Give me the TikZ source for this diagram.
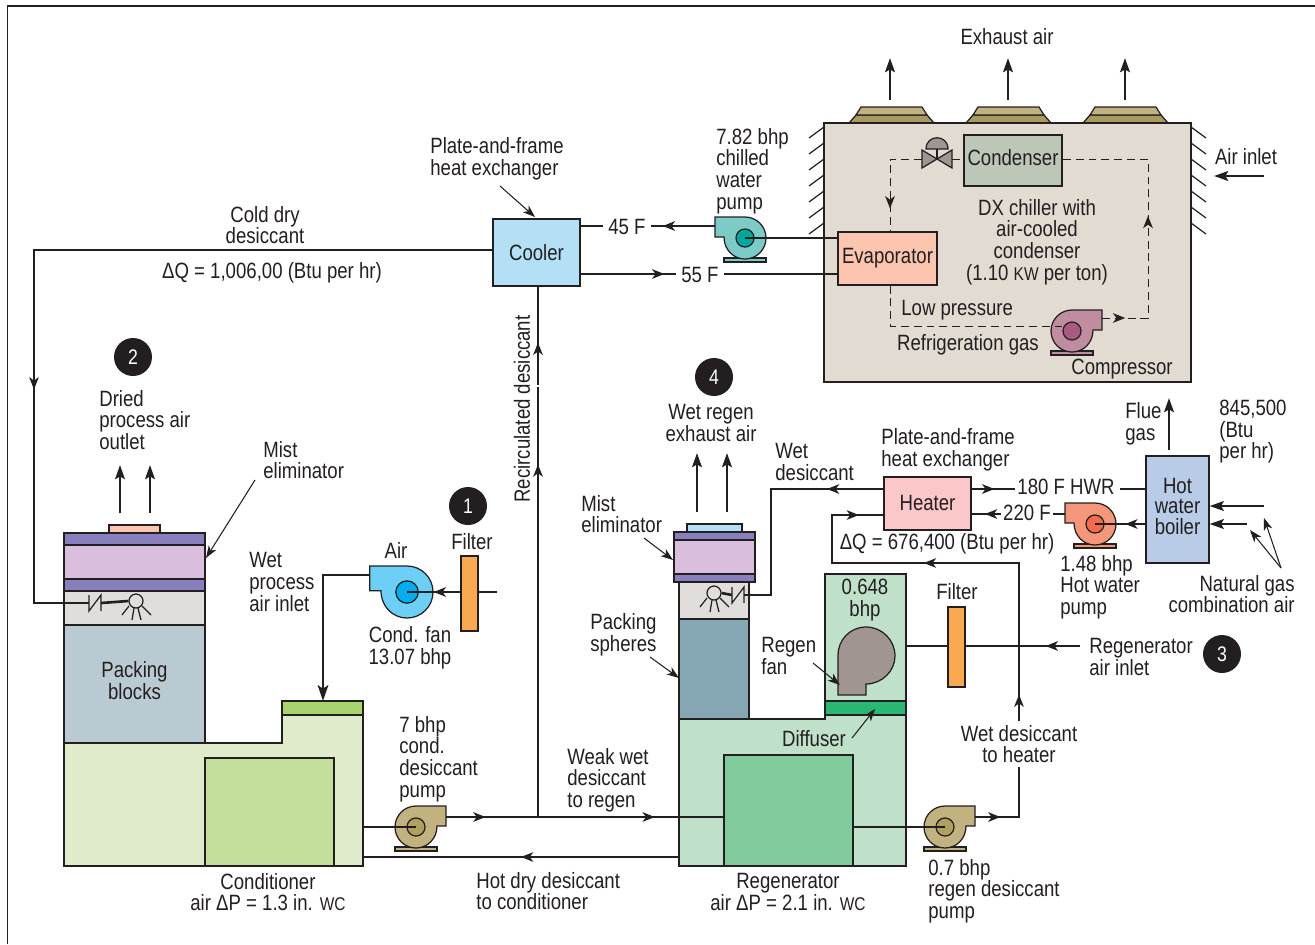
\documentclass[tikz,border=0pt]{standalone}
\usepackage{fontspec}
\setmainfont[FakeStretch=0.84]{Liberation Sans}
\usepackage{xcolor}
\usetikzlibrary{arrows.meta, decorations.markings}

\definecolor{inkline}{HTML}{231F20}
\definecolor{coolerfill}{HTML}{B3E0F5}
\definecolor{heaterfill}{HTML}{FBC7C9}
\definecolor{boilerfill}{HTML}{B8CCE8}
\definecolor{evapfill}{HTML}{FCC5B0}
\definecolor{condfill}{HTML}{BCC7B8}
\definecolor{chillerfill}{HTML}{E1DBD1}
\definecolor{hoodtop}{HTML}{C2B280}
\definecolor{hoodlow}{HTML}{A89A60}
\definecolor{filterfill}{HTML}{F9A94F}
\definecolor{purplefill}{HTML}{8880BC}
\definecolor{lilacfill}{HTML}{D9BFDD}
\definecolor{sprayfill}{HTML}{E1DDDA}
\definecolor{packblue}{HTML}{BACAD2}
\definecolor{packteal}{HTML}{85A8B4}
\definecolor{condbase}{HTML}{DFEBCB}
\definecolor{condcap}{HTML}{A8D46F}
\definecolor{condsumpfill}{HTML}{C4DF9B}
\definecolor{regenbase}{HTML}{BFE1C9}
\definecolor{regensumpfill}{HTML}{80CA9B}
\definecolor{diffuserfill}{HTML}{2BB673}
\definecolor{fangray}{HTML}{A09590}
\definecolor{compbody}{HTML}{C08CA0}
\definecolor{comphub}{HTML}{A95A80}
\definecolor{chwbody}{HTML}{7CCBC6}
\definecolor{chwhub}{HTML}{00A79D}
\definecolor{fanbody}{HTML}{6ECFF6}
\definecolor{fanhub}{HTML}{00AEEF}
\definecolor{pumpbody}{HTML}{C2B280}
\definecolor{pumphub}{HTML}{B0A060}
\definecolor{hwbody}{HTML}{F4967A}
\definecolor{hwhub}{HTML}{F26B4A}

\tikzset{
    pipe/.style={line width=1.5pt, draw=inkline},
    leader/.style={line width=0.6pt, draw=inkline, -{Stealth[length=7pt, width=5pt, inset=2pt]}},
    flowup/.style={line width=1.5pt, draw=inkline, -{Stealth[length=8pt, width=5.5pt, inset=1.5pt]}},
    unit/.style={draw=inkline, line width=0.7pt},
    refrig/.style={draw=inkline, line width=0.5pt, dash pattern=on 4.5pt off 2.8pt},
    lbl/.style={inner sep=0pt, align=left, text=inkline, font=\fontsize{12.6}{12.25}\selectfont},
    lblc/.style={lbl, align=center},
    lblr/.style={lbl, align=right},
    midarrow/.style={postaction={decorate, decoration={markings,
        mark=at position #1 with {\arrow[line width=0.8pt]{Stealth[length=7pt, width=5.5pt, inset=2pt]}}}}},
    marker/.style={circle, fill=inkline, inner sep=0pt, minimum size=0.76cm, text=white, font=\fontsize{12}{12}\selectfont},
}

\begin{document}
\begin{tikzpicture}[x=0.02cm, y=-0.02cm]

    % --- 1. MACROS ---
    \newcommand{\unitbox}[7]{
        \pgfmathsetmacro{\boxw}{(#4-#2)*0.02}
        \pgfmathsetmacro{\boxh}{(#5-#3)*0.02}
        \node[unit, lblc, fill=#6, minimum width=\boxw cm, minimum height=\boxh cm] (#1)
            at ({(#2+#4)/2}, {(#3+#5)/2}) {#7};
    }
    % name, x, y, direction, radius, fill, hub, with base
    \newcommand{\pumpunit}[8]{
        \begin{scope}[shift={(#2,#3)}, xscale=#4*#5/21, yscale=#5/21]
            \ifnum#8=1
                \draw[unit, fill=#6] (-21,20) rectangle (21,24);
            \fi
            \draw[unit, fill=#6] (0,-21) -- (30,-21) -- (30,-1) -- (21,-1)
                .. controls (21,11.6) and (11.6,21) .. (0,21)
                .. controls (-11.6,21) and (-21,11.6) .. (-21,0)
                .. controls (-21,-11.6) and (-11.6,-21) .. (0,-21) -- cycle;
            \coordinate (#1out) at (30,-11);
        \end{scope}
        \pgfmathsetmacro{\hubsize}{#5*0.86*0.02}
        \node[unit, circle, fill=#7, inner sep=0pt, minimum size=\hubsize cm] (#1) at (#2,#3) {};
    }
    \newcommand{\sprayhead}[3]{
        \begin{scope}[shift={(#2,#3)}]
            \foreach \xa/\ya/\xb/\yb in {-7/5/-14/14, -2/7/-4/19, 2/7/5/19, 6/5/15/14}
                \draw[unit] (\xa,\ya) -- (\xb,\yb);
        \end{scope}
        \node[unit, circle, fill=sprayfill, inner sep=0pt, minimum size=0.28cm] (#1) at (#2,#3) {};
    }
    \newcommand{\checkvalve}[2]{
        \begin{scope}[shift={(#1,#2)}]
            \draw[unit] (0,-8) -- (0,8) -- (12,-8) -- (12,8);
        \end{scope}
    }
    \newcommand{\smallwc}{{\fontsize{10.5}{10}\selectfont WC}}

    % --- 2. FRAME ---
    \useasboundingbox (0,0) rectangle (1315,944);
    \fill[white] (0,0) rectangle (1315,944);
    \draw[line width=1.1pt, inkline] (7.5,944) -- (7.5,6) -- (1315,6);

    % --- 3. CHILLER ---
    \foreach \yy in {127,143,159,175,191,207,223} {
        \draw[unit] (824,\yy) -- (809,\yy+11);
        \draw[unit] (1191,\yy) -- (1206,\yy+11);
    }
    \foreach \hx in {849,966,1083} {
        \draw[unit, fill=hoodlow] (\hx,123) -- (\hx+7,115) -- (\hx+78,115) -- (\hx+85,123) -- cycle;
        \draw[unit, fill=hoodtop] (\hx+7,115) -- (\hx+12,107) -- (\hx+73,107) -- (\hx+78,115) -- cycle;
    }
    \unitbox{chiller}{824}{123}{1191}{382}{chillerfill}{}
    \unitbox{condenser}{964}{135}{1062}{186}{condfill}{\raisebox{0.12cm}{Condenser}}
    \unitbox{evaporator}{838}{232}{937}{285}{evapfill}{\raisebox{-0.04cm}{Evaporator}}

    \foreach \ax in {890,1008,1125}
        \draw[flowup] (\ax,100) -- (\ax,58);
    \node[lblc] (exhaustlbl) at (1007,37) {Exhaust air};
    \node[lblc] (airinletlbl) at (1246,157) {Air inlet};
    \coordinate (airinletend) at (1264,176);
    \draw[flowup] (airinletend) -- (1214,176);

    % valve
    \draw[unit, fill=fangray] (926,149) .. controls (926,134) and (948,134) .. (948,149) -- cycle;
    \draw[unit] (937,149) -- (937,159);
    \draw[unit, fill=fangray] (922,150) -- (952,168) -- (952,150) -- (922,168) -- cycle;
    \coordinate (valveleft) at (922,159);
    \coordinate (valveright) at (952,159);

    % refrigerant loop
    \pumpunit{compressor}{1072}{331}{1}{21}{compbody}{comphub}{1}
    \coordinate (looptop) at (890,159);
    \coordinate (loopright) at (1148,159);
    \coordinate (loopdown) at (1148,318);
    \coordinate (loopbase) at (890,326);
    \draw[refrig, midarrow=0.78] (valveleft) -- (looptop) -- (looptop |- evaporator.north);
    \draw[refrig] (valveright) -- (condenser.west |- valveright);
    \draw[refrig, midarrow=0.08, midarrow=0.51] (compressorout |- loopdown) -- (loopdown) -- (loopright) -- (condenser.east |- loopright);
    \draw[refrig] (loopbase |- evaporator.south) -- (loopbase) -- (compressor.west |- loopbase);

    \node[lblc] (dxlbl) at (1037,242) {DX chiller with\\air-cooled\\condenser\\(1.10 {\fontsize{10.5}{10}\selectfont KW} per ton)};
    \node[lbl, anchor=west] (lowlbl) at (901,310) {Low pressure};
    \node[lblc] (gaslbl) at (968,345) {Refrigeration gas};
    \node[lblc] (compressorlbl) at (1122,369) {Compressor};

    % --- 4. COOLER ---
    \unitbox{cooler}{493}{219}{580}{286}{coolerfill}{Cooler}
    \node[lbl, anchor=west] (platelbl) at (430,159) {Plate-and-frame\\heat exchanger};
    \coordinate (plateleader) at (500,186);
    \draw[leader] (plateleader) -- (535,217);

    \pumpunit{chwpump}{745}{238}{-1}{21}{chwbody}{chwhub}{1}
    \node[lbl, anchor=west] (chwlbl) at (716,171) {7.82 bhp\\chilled\\water\\pump};
    \node[lblc] (t45lbl) at (627,227) {45 F};
    \node[lblc] (t55lbl) at (700,275) {55 F};
    \draw[pipe, midarrow=0.82] (chwpumpout |- 0,226) -- ([xshift=3pt]t45lbl.east |- 0,226);
    \draw[pipe] ([xshift=-3pt]t45lbl.west |- 0,226) -- (cooler.east |- 0,226);
    \draw[pipe] (chwpump.center) -- (evaporator.west |- 0,238);
    \draw[pipe, midarrow=0.88] (cooler.east |- 0,274) -- ([xshift=-3pt]t55lbl.west |- 0,274);
    \draw[pipe] ([xshift=3pt]t55lbl.east |- 0,274) -- (evaporator.west |- 0,274);

    % --- 5. CONDITIONER ---
    \draw[unit, fill=condbase] (64,743) -- (282,743) -- (282,701) -- (363,701) -- (363,866) -- (64,866) -- cycle;
    \draw[unit, fill=condcap] (282,701) rectangle (363,715);
    \unitbox{condsump}{205}{758}{334}{866}{condsumpfill}{}
    \unitbox{packblocks}{64}{625}{205}{743}{packblue}{\raisebox{0.04cm}{\begin{tabular}{@{}c@{}}Packing\\[-0.15pt]blocks\end{tabular}}}
    \unitbox{condspray}{64}{591}{205}{625}{sprayfill}{}
    \draw[unit, fill=purplefill] (64,579) rectangle (205,591);
    \draw[unit, fill=lilacfill] (64,545) rectangle (205,579);
    \draw[unit, fill=purplefill] (64,533) rectangle (205,545);
    \draw[unit, fill=evapfill] (109,525) rectangle (160,533);
    \sprayhead{condhead}{136}{601}
    \checkvalve{89}{603}
    \coordinate (condvalve) at (89,603);
    \draw[pipe] (101,603) -- (condhead.west);
    \draw[pipe, midarrow=0.69] (cooler.west |- 0,250) -- (34,250) -- (34,603) -- (condvalve);

    \draw[flowup] (120,513) -- (120,465);
    \draw[flowup] (150,513) -- (150,465);
    \node[marker] (marktwo) at (133,357) {2};
    \node[lbl, anchor=west] (driedlbl) at (99,420) {Dried\\process air\\outlet};
    \node[lbl, anchor=west] (mistlbl) at (263,460) {Mist\\eliminator};
    \coordinate (mistleader) at (255,480);
    \draw[leader] (mistleader) -- (206,558);
    \node[lblc] (coldlbl) at (265,225) {Cold dry\\desiccant};
    \node[lblc] (dqlbl) at (272,273) {ΔQ = 1,006,00 (Btu per hr)};

    % process air
    \unitbox{condfilter}{461}{556}{478}{631}{filterfill}{}
    \pumpunit{condfan}{407}{592}{-1}{26}{fanbody}{fanhub}{0}
    \coordinate (condairin) at (497,592);
    \draw[pipe] (condairin) -- (condfilter.east |- condairin);
    \draw[pipe, midarrow=0.5] (condfilter.west |- condairin) -- (condfan.center);
    \draw[pipe, -{Stealth[length=9pt, width=6pt, inset=2pt]}] (condfanout |- 0,575) -- (323,575) -- (323,701);
    \node[marker] (markone) at (468,506) {1};
    \node[lblc] (filterlbl) at (472,542) {Filter};
    \node[lblc] (airlbl) at (396,550) {Air};
    \node[lbl, anchor=west] (wetlbl) at (249,582) {Wet\\process\\air inlet};
    \node[lblc] (fanlbl) at (410,648) {Cond. fan\\13.07 bhp};
    \node[lblc] (condlbl) at (268,892) {Conditioner\\air ΔP = 1.3 in. \smallwc};

    % --- 6. REGENERATOR ---
    \draw[unit, fill=regenbase] (679,719) -- (825,719) -- (825,574) -- (906,574) -- (906,866) -- (679,866) -- cycle;
    \draw[unit, fill=diffuserfill] (825,701) rectangle (906,715);
    \unitbox{regensump}{724}{755}{853}{866}{regensumpfill}{}
    \unitbox{packspheres}{679}{619}{749}{719}{packteal}{}
    \unitbox{regenspray}{679}{582}{749}{619}{sprayfill}{}
    \draw[unit, fill=coolerfill] (687,524) rectangle (742,532);
    \draw[unit, fill=lilacfill] (674,532) rectangle (755,582);
    \draw[unit, fill=purplefill] (674,532) rectangle (755,540);
    \draw[unit, fill=purplefill] (674,574) rectangle (755,582);
    \sprayhead{regenhead}{714}{593}
    \checkvalve{732}{595}
    \draw[pipe] (regenhead.east) -- (732,595);

    \draw[flowup] (697,512) -- (697,453);
    \draw[flowup] (727,512) -- (727,453);
    \node[marker] (markfour) at (714,377) {4};
    \node[lblc] (wetexlbl) at (711,423) {Wet regen\\exhaust air};
    \node[lbl, anchor=west] (mist2lbl) at (581,514) {Mist\\eliminator};
    \coordinate (mist2leader) at (644,538);
    \draw[leader] (mist2leader) -- (673,560);
    \node[lbl, anchor=west] (spherelbl) at (590,635) {Packing\\spheres};
    \coordinate (sphereleader) at (650,657);
    \draw[leader] (sphereleader) -- (679,678);
    \node[lbl, anchor=west] (regenfanlbl) at (761,656) {Regen\\fan};
    \coordinate (fanleader) at (813,663);
    \node[lblc] (difflbl) at (814,739) {Diffuser};
    \coordinate (diffleader) at (852,738);
    \draw[leader] (diffleader) -- (875,709);
    \node[lblc] (regenlbl) at (788,892) {Regenerator\\air ΔP = 2.1 in. \smallwc};

    % regen fan
    \draw[unit, fill=fangray] (838,695) -- (866,695) -- (866,684)
        .. controls (882,684) and (895,671) .. (895,656)
        .. controls (895,640) and (882,627) .. (866,627)
        .. controls (850,627) and (838,640) .. (838,655) -- cycle;
    \draw[leader] (fanleader) -- (840,685);
    \node[lblc] (fanbhplbl) at (865,600) {0.648\\bhp};
    \unitbox{regenfilter}{948}{607}{965}{687}{filterfill}{}
    \node[lblc] (filter2lbl) at (957,592) {Filter};
    \node[lbl, anchor=west] (regenairlbl) at (1089,657) {Regenerator\\air inlet};
    \node[marker] (markthree) at (1222,654) {3};
    \coordinate (regenairin) at (1080,646);
    \draw[pipe, midarrow=0.3] (regenairin) -- (regenfilter.east |- regenairin);
    \draw[pipe] (regenfilter.west |- regenairin) -- (906,646);

    % --- 7. HEATER AND BOILER ---
    \unitbox{heater}{884}{477}{971}{530}{heaterfill}{\raisebox{0.03cm}{Heater}}
    \unitbox{boiler}{1146}{456}{1209}{563}{boilerfill}{\raisebox{0.1cm}{\begin{tabular}{@{}c@{}}Hot\\[-0.8pt]water\\[-0.8pt]boiler\end{tabular}}}
    \pumpunit{hwpump}{1095}{524}{-1}{21}{hwbody}{hwhub}{1}
    \node[lbl, anchor=west] (plate2lbl) at (881,450) {Plate-and-frame\\heat exchanger};
    \node[lblc] (hwrlbl) at (1066,487) {180 F HWR};
    \node[lblc] (t220lbl) at (1027,513) {220 F};
    \node[lblc] (dq2lbl) at (947,544) {ΔQ = 676,400 (Btu per hr)};
    \node[lbl, anchor=west] (hwlbl) at (1060,587) {1.48 bhp\\Hot water\\pump};
    \node[lbl, anchor=west] (fluelbl) at (1125,424) {Flue\\gas};
    \node[lbl, anchor=west] (btulbl) at (1219,432) {845,500\\(Btu\\per hr)};
    \node[lblr, anchor=east] (gaslbl2) at (1295,594) {Natural gas\\combination air};
    \node[lbl, anchor=west] (wetdeslbl) at (775,462) {Wet\\desiccant};

    \draw[pipe, midarrow=0.52] (heater.east |- 0,489) -- ([xshift=-1pt]hwrlbl.west |- 0,489);
    \draw[pipe] ([xshift=3pt]hwrlbl.east |- 0,489) -- (boiler.west |- 0,489);
    \draw[pipe, midarrow=0.55] ([xshift=-1pt]t220lbl.west |- 0,514) -- (heater.east |- 0,514);
    \draw[pipe] ([xshift=1pt]t220lbl.east |- 0,514) -- (hwpumpout |- 0,514);
    \draw[pipe, midarrow=0.4] (boiler.west |- 0,524) -- (hwpump.center);
    \coordinate (flueout) at (1169,450);
    \draw[flowup] (flueout) -- (1169,398);
    \coordinate (gasin) at (1264,506);
    \coordinate (airin) at (1247,524);
    \draw[flowup] (gasin) -- (boiler.east |- gasin);
    \draw[flowup] (airin) -- (boiler.east |- airin);
    \coordinate (gasleader) at (1281,568);
    \draw[leader] (gasleader) -- (1264,518);
    \draw[leader] (gasleader) -- (1250,530);

    % --- 8. DESICCANT LOOP ---
    \pumpunit{condpump}{416}{827}{1}{21}{pumpbody}{pumphub}{1}
    \pumpunit{regenpump}{945}{827}{1}{21}{pumpbody}{pumphub}{1}
    \coordinate (condout) at (363,827);
    \coordinate (recirc) at (538,817);
    \coordinate (recircgap) at (538,386);
    \draw[pipe] (condout) -- (condpump.center);
    \draw[pipe, midarrow=0.43] (condpumpout |- recirc) -- (recirc);
    \draw[pipe, midarrow=0.63] (recirc) -- (regensump.west |- recirc);
    \draw[pipe, midarrow=0.82] (recirc) -- ([yshift=-0.6pt]recircgap);
    \draw[pipe, midarrow=0.43] ([yshift=0.6pt]recircgap) -- (recirc |- cooler.south);
    \node[lbl, rotate=90] (recirclbl) at (522,409) {Recirculated desiccant};
    \draw[pipe, midarrow=0.5] (679,857) -- (363,857);
    \node[lbl, anchor=west] (hotdrylbl) at (476,891) {Hot dry desiccant\\to conditioner};
    \node[lbl, anchor=west] (weaklbl) at (567,780) {Weak wet\\desiccant\\to regen};
    \node[lbl, anchor=west] (condpumplbl) at (399,759) {7 bhp\\cond.\\desiccant\\pump};
    \node[lbl, anchor=west] (regenpumplbl) at (928,891) {0.7 bhp\\regen desiccant\\pump};
    \node[lblc] (todesiclbl) at (1019,744) {Wet desiccant\\to heater};

    \draw[pipe] (regensump.east |- condout) -- (regenpump.center);
    \coordinate (toheater) at (1019,817);
    \coordinate (topcorner) at (1019,563);
    \coordinate (leftcorner) at (832,563);
    \coordinate (heaterin) at (832,515);
    \draw[pipe, midarrow=0.27] (regenpumpout |- toheater) -- (toheater) -- ([yshift=-2pt]toheater |- todesiclbl.south);
    \draw[pipe, midarrow=0.06, midarrow=0.57, midarrow=0.945] ([yshift=2pt]toheater |- todesiclbl.north) -- (topcorner) -- (leftcorner) -- (heaterin) -- (heater.west |- heaterin);
    \draw[pipe, midarrow=0.23] (heater.west |- 0,489) -- (771,489) -- (771,595) -- (744,595);
\end{tikzpicture}
\end{document}
